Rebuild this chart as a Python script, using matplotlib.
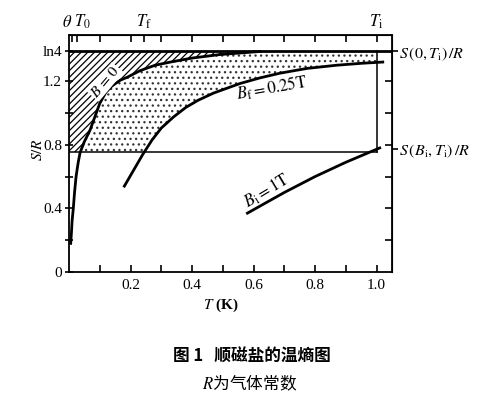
import matplotlib
matplotlib.use("Agg")
import matplotlib.pyplot as plt
import numpy as np

plt.rcParams['font.family'] = ['Liberation Serif', 'DejaVu Serif']
plt.rcParams['mathtext.fontset'] = 'stix'
plt.rcParams['hatch.linewidth'] = 0.9
plt.rcParams['hatch.color'] = 'black'

# ---- Data ----
LN4 = np.log(4)
S_I = 0.755          # S(B_i, T_i)/R level
T_I = 1.0            # initial temperature

# B = 0 curve
t_b0 = [0.0055, 0.008, 0.010, 0.014, 0.018, 0.023, 0.030, 0.036, 0.050, 0.068,
        0.085, 0.100, 0.120, 0.140, 0.166, 0.190, 0.230, 0.280, 0.330, 0.400,
        0.490, 0.620]
s_b0 = [0.18, 0.25, 0.32, 0.40, 0.50, 0.60, 0.69, 0.75, 0.82, 0.89,
        0.98, 1.06, 1.13, 1.17, 1.205, 1.225, 1.265, 1.30, 1.32, 1.345,
        1.367, LN4]

# B_f = 0.25 T curve
t_bf = [0.18, 0.21, 0.24, 0.27, 0.30, 0.34, 0.38, 0.42, 0.47, 0.52,
        0.556, 0.62, 0.686, 0.774, 0.87, 0.95, 1.02]
s_bf = [0.54, 0.64, 0.74, 0.83, 0.905, 0.975, 1.035, 1.08, 1.125, 1.16,
        1.185, 1.22, 1.25, 1.28, 1.30, 1.312, 1.32]

# B_i = 1 T curve
t_bi = [0.58, 0.70, 0.80, 0.90, 1.01]
s_bi = [0.37, 0.50, 0.60, 0.69, 0.78]

x_ticks = [0.2, 0.4, 0.6, 0.8, 1.0]
x_labels = ['0.2', '0.4', '0.6', '0.8', '1.0']
y_ticks = [0, 0.4, 0.8, 1.2, LN4]
y_labels = ['0', '0.4', '0.8', '1.2', 'ln4']
top_ticks = [0.01, 0.025, 0.1, 0.2, 0.245, 0.3, 0.4, 0.5, 0.6, 0.7, 0.8, 0.9, 1.0]

# ---- Figure ----
fig = plt.figure(figsize=(5, 3.99), dpi=100)
ax = fig.add_axes([69 / 500, 127 / 399, 323 / 500, 237 / 399])
ax.set_xlim(0, 1.05)
ax.set_ylim(0, 1.49)

# ---- Hatched region (left of B=0, between S_I and ln4) ----
s_grid = np.linspace(S_I, LN4, 200)
t_edge = np.interp(s_grid, s_b0, t_b0)
ax.fill_betweenx(s_grid, 0, t_edge, facecolor='none', edgecolor='black',
                 hatch='/////', linewidth=0)

# ---- Stippled region (between B=0 / ln4 and B_f / S_I) ----
t_grid = np.linspace(np.interp(S_I, s_b0, t_b0), T_I, 400)
upper = np.interp(t_grid, t_b0, s_b0)
lower = np.maximum(np.interp(t_grid, t_bf, s_bf), S_I)
ax.fill_between(t_grid, lower, upper, facecolor='none', edgecolor='#333333',
                hatch='...', linewidth=0)

# ---- Lines ----
ax.axhline(LN4, color='black', lw=2.0)
ax.plot([0, T_I], [S_I, S_I], color='black', lw=1.1)
ax.plot([T_I, T_I], [S_I, LN4], color='black', lw=1.1)
ax.plot(t_b0, s_b0, color='black', lw=2.0)
ax.plot(t_bf, s_bf, color='black', lw=2.0)
ax.plot(t_bi, s_bi, color='black', lw=2.0)

# ---- Curve labels ----
ax.text(0.118, 1.195, r'$B\,=\,0$', rotation=50, fontsize=11,
        ha='center', va='center',
        bbox=dict(facecolor='white', edgecolor='none', pad=0.5))
ax.text(0.66, 1.155, r'$B_{\rm f}=0.25\mathrm{T}$', rotation=10, fontsize=12,
        ha='center', va='center')
ax.text(0.645, 0.51, r'$B_{\rm i}=1\mathrm{T}$', rotation=31, fontsize=12,
        ha='center', va='center')

# ---- Axes ticks ----
ax.set_xticks(x_ticks)
ax.set_xticklabels(x_labels)
ax.set_xticks(np.arange(0.1, 1.01, 0.2), minor=True)
ax.set_yticks(y_ticks)
ax.set_yticklabels(y_labels)
ax.set_yticks([0.2, 0.6, 1.0], minor=True)
ax.tick_params(axis='x', which='both', direction='in', length=5, width=1.2,
               labelsize=11, pad=5)
ax.tick_params(axis='y', which='both', direction='inout', length=6, width=1.2,
               labelsize=11, pad=2)
for sp in ax.spines.values():
    sp.set_linewidth(1.3)

top = ax.secondary_xaxis('top')
top.set_xticks(top_ticks)
top.set_xticklabels([])
top.tick_params(direction='in', length=5, width=1.2)

right = ax.secondary_yaxis('right')
right.set_yticks([0.2, 0.4, 0.6, 0.8, 1.0, 1.2])
right.set_yticklabels([])
right.tick_params(direction='in', length=5, width=1.2)

right2 = ax.secondary_yaxis('right')
right2.set_yticks([S_I + 0.02, LN4])
right2.set_yticklabels([r'$S\,(B_{\rm i},T_{\rm i})\,/R$', r'$S\,(0,T_{\rm i})\,/R$'])
right2.tick_params(direction='out', length=4, width=1.2, labelsize=11.5, pad=1)
right2.spines['right'].set_visible(False)

# ---- Top labels ----
top_tr = ax.get_xaxis_transform()
ax.text(-0.006, 1.015, r'$\theta$', transform=top_tr, fontsize=12,
        ha='center', va='bottom')
ax.text(0.045, 1.015, r'$T_0$', transform=top_tr, fontsize=12,
        ha='center', va='bottom')
ax.text(0.245, 1.015, r'$T_{\rm f}$', transform=top_tr, fontsize=12,
        ha='center', va='bottom')
ax.text(1.0, 1.015, r'$T_{\rm i}$', transform=top_tr, fontsize=12,
        ha='center', va='bottom')

# ---- Axis labels ----
fig.text(38 / 500, 1 - 150 / 399, r'$\mathbf{\mathit{S/R}}$', rotation=90,
         fontsize=11, ha='center', va='center')
fig.text(221 / 500, 1 - 305 / 399, r'$\mathit{T}$ (K)', fontsize=11,
         fontweight='bold', ha='center', va='center')

# ---- Caption ----
fig.text(252 / 500, 1 - 357 / 399, '图 1   顺磁盐的温熵图', fontsize=12,
         family=['Noto Sans CJK SC', 'DejaVu Sans'], fontweight='bold',
         ha='center', va='center')
fig.text(250 / 500, 1 - 383 / 399, r'$R$为气体常数', fontsize=12,
         family=['Noto Sans CJK SC', 'DejaVu Sans'],
         ha='center', va='center')

fig.savefig('out.png', dpi=100)
